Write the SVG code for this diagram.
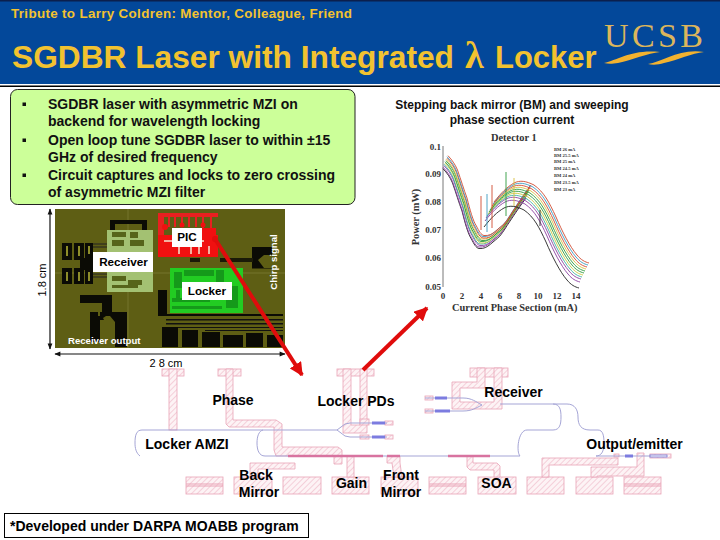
<svg xmlns="http://www.w3.org/2000/svg" xmlns:xlink="http://www.w3.org/1999/xlink" width="720" height="540" viewBox="0 0 720 540">
<style>
text{font-family:"Liberation Sans",Arial,sans-serif;fill:#000}
.t{font-size:14px;font-weight:bold}
.b{font-size:14px;font-weight:bold;fill:#111}
.m{font-size:12px;font-weight:bold;fill:#111}
.ch{font-size:11.7px;font-weight:bold}
.wl{font-size:9.6px;font-weight:bold;fill:#fff}
.s{font-family:"Liberation Serif",serif;font-weight:bold;fill:#333}
.ax{font-size:9px}
.lg{font-size:4.6px}
.h{fill:url(#hatch);stroke:#e9a3b6;stroke-width:.8}
.w{fill:none;stroke:#a5a5d6;stroke-width:1}
.wb{fill:none;stroke:#7c7ce0;stroke-width:3}
.wp{fill:none;stroke:#d873a0;stroke-width:2.4}
.c{fill:none;stroke-width:.9}
.k{fill:#0b0b05}
.red{stroke:#e00c0c;stroke-width:4;fill:none}
</style>
<defs>
<pattern id="hatch" width="4" height="4" patternUnits="userSpaceOnUse" patternTransform="rotate(-45)">
<rect width="4" height="4" fill="#fdf3f5"/><line x1="0" y1="0" x2="4" y2="0" stroke="#eeb2c2" stroke-width="1.100"/>
</pattern>
<marker id="ah" viewBox="0 0 10 10" refX="9" refY="5" markerWidth="3.400" markerHeight="3.400" orient="auto"><path d="M0 0L10 5L0 10Z" fill="#e00c0c"/></marker>
<marker id="dk" viewBox="0 0 10 10" refX="9" refY="5" markerWidth="7" markerHeight="6" orient="auto-start-reverse" markerUnits="userSpaceOnUse"><path d="M0 1L10 5L0 9Z" fill="#111"/></marker>
<path id="cl" d="M443 160.700C447 165 450 169 452.500 175C456 185 459 195 462 203C465 215 468 226 471.400 231C474 236 476 240 479 240.500C484 241 487 239 490.400 236.300C494 233 497 231 499.900 228C504 223 506 219 509.400 214L518.800 200L526 190"/>
<path id="cu" d="M490 203C497 194 503 188 510 184C516 181 522 182 530 186C540 193 545 203 552 218C558 232 566 248 573 256C577 261 581 263 585 264"/>
</defs>
<rect width="720" height="540" fill="#fff"/>
<g id="header">
<rect width="720" height="84" fill="#03489a"/>
<rect width="720" height="1.500" fill="#0b1f4d"/>
<rect y="85.500" width="720" height="1.500" fill="#000"/>
<text x="11" y="18" font-size="13.400" font-weight="bold" textLength="341" lengthAdjust="spacing" style="fill:#f2c230">Tribute to Larry Coldren: Mentor, Colleague, Friend</text>
<text x="12" y="68" font-size="31.700" font-weight="bold" style="fill:#f2c230">SGDBR Laser with Integrated</text>
<text x="465" y="68" font-size="38" font-weight="bold" style="fill:#f2c230;font-family:'Liberation Serif',serif">λ</text>
<text x="495" y="68" font-size="31" font-weight="bold" style="fill:#f2c230">Locker</text>
</g>
<g id="ucsb-logo">
<text x="604" y="47" font-size="34" textLength="99" lengthAdjust="spacing" style="font-family:'Liberation Serif',serif;fill:#dcb65c">UCSB</text>
<path d="M604 63C618 60 632 49 660 52C648 53 632 60 618 63C612 64 608 64 604 63Z" fill="#f2b230"/>
<path d="M648 64C662 62 680 48 704 52C692 53 678 60 664 63C658 65 652 65 648 64Z" fill="#f2b230"/>
</g>
<g id="bullet-box">
<rect x="10.500" y="89.500" width="344.500" height="115" rx="7" fill="#ccff99" stroke="#222" stroke-width="1"/>
<g><rect x="22.500" y="102.500" width="3.500" height="3.500" fill="#111"/><rect x="22.500" y="138.500" width="3.500" height="3.500" fill="#111"/><rect x="22.500" y="173.500" width="3.500" height="3.500" fill="#111"/></g>
<text class="b" x="48" y="109">SGDBR laser with asymmetric MZI on</text>
<text class="b" x="48" y="126">backend for wavelength locking</text>
<text class="b" x="48" y="145">Open loop tune SGDBR laser to within ±15</text>
<text class="b" x="48" y="162">GHz of desired frequency</text>
<text class="b" x="48" y="180">Circuit captures and locks to zero crossing</text>
<text class="b" x="48" y="197">of asymmetric MZI filter</text>
</g>
<g id="chart-title">
<text class="m" x="512" y="109" text-anchor="middle">Stepping back mirror (BM) and sweeping</text>
<text class="m" x="512" y="124" text-anchor="middle">phase section current</text>
</g>
<g id="chip">
<rect x="55" y="209" width="230" height="139" fill="#5e5e14"/>
<path d="M55 273H285M128 209V348" stroke="#85853c" stroke-width=".6"/>
<rect x="107" y="230" width="46" height="62" fill="#a3c172"/>
<path d="M112 232h14v5h-14Z M112 246h12v-6h-12Z M130 240h14v6h-14Z M130 232h8v6h-8Z M112 276h14v5h-14Z M128 280h14v5h-14Z M112 285h26v3h-26Z" fill="#56641a"/>
<path d="M110 220H147V230H142V224H115V230H110Z" class="k"/>
<rect x="158" y="213" width="60" height="4" fill="#e82020"/>
<path d="M158 213h6v44h-6Z M168 217h2v10h-2Z M174 217h2v10h-2Z M181 217h2v10h-2Z M188 217h2v10h-2Z M195 217h2v10h-2Z M202 217h2v12h-2Z M210 217h2v12h-2Z" fill="#e82020"/>
<path d="M158 235H218V257H158Z M202 228H216V236H202Z" fill="#f01010"/>
<circle cx="165" cy="227" r="3" fill="#f01010"/><circle cx="182" cy="225" r="2.500" fill="#f01010"/><circle cx="203" cy="225" r="2.500" fill="#f01010"/>
<path d="M164 240h40v2h-40Z M178 247h2v7h-2Z M190 247h2v7h-2Z M198 247h2v7h-2Z M208 246h2v8h-2Z" fill="#f3b0a0"/>
<rect x="170" y="268" width="73" height="45" fill="#22cc22"/>
<path d="M174 272h8v16h-8Z M184 270h30v6h-30Z M172 298h38v4h-38Z M172 306h50v3h-50Z M226 286h12v22h-12Z M216 270h8v12h-8Z M176 290h4v12h-4Z" fill="#118a18" opacity=".75"/>
<path d="M62 243H72V260H62ZM74 243H84V260H74ZM85 243H93V258H85ZM62 268H72V284H62ZM74 268H84V284H74ZM85 268H93V284H85Z" class="k"/>
<path d="M66 246h2v10h-2ZM78 246h2v10h-2ZM88 246h2v8h-2ZM66 272h2v9h-2ZM78 272h2v9h-2ZM88 272h2v9h-2Z" fill="#8d8d2a"/>
<path d="M80 258H95V270H80Z" class="k"/>
<path d="M93 244H107M93 247H107M93 274H107M93 277H107" stroke="#222" stroke-width="1"/>
<path d="M80 295H112V312H102V303H80Z" class="k"/>
<path d="M90 312H98V316H102L104 320H100V342H90Z" class="k"/>
<path d="M100 312H127V347H115V322L110 316H106L100 320Z" class="k"/>
<path d="M252 247H272V255H264L258 260L264 268H272V268.500H252Z" class="k"/>
<path d="M220 258H253V262H220ZM190 258H200V262H190Z" fill="#1a1a08"/>
<path d="M158 290H167V314H283V316H158Z" class="k"/>
<path d="M166 319H283V320.500H166ZM166 323H283V324.500H166ZM170 327H283V328H170Z M205 330H283V331H205Z" fill="#111"/>
<path d="M162 327H178V347H162Z M182 330H198V347H182Z M202 332H220V347H202Z M223 335H243V347H223Z M246 333H263V347H246Z M267 335H283V347H267Z" class="k"/>
<rect x="93" y="252" width="60" height="20" fill="#fff"/>
<rect x="172" y="228" width="30" height="19" fill="#fff"/>
<rect x="182" y="282" width="50" height="18" fill="#fff"/>
<text class="ch" x="123.500" y="266" text-anchor="middle">Receiver</text>
<text class="ch" x="187" y="241" text-anchor="middle">PIC</text>
<text class="ch" x="207" y="295" text-anchor="middle">Locker</text>
<text class="wl" x="68" y="344">Receiver output</text>
<text class="wl" x="277" y="262" text-anchor="middle" transform="rotate(-90 277 262)">Chirp signal</text>
<line x1="50" y1="209" x2="50" y2="349" stroke="#111" stroke-width="1.200" marker-start="url(#dk)" marker-end="url(#dk)"/>
<line x1="55" y1="354" x2="285" y2="354" stroke="#111" stroke-width="1.200" marker-start="url(#dk)" marker-end="url(#dk)"/>
<text x="46" y="280" font-size="11" text-anchor="middle" transform="rotate(-90 46 280)">1.8 cm</text>
<text x="166" y="367" font-size="11" text-anchor="middle">2 8 cm</text>
</g>
<g id="chart">
<path d="M443 146V287" fill="none" stroke="#555" stroke-width=".8"/>
<g class="c">
<use xlink:href="#cl" stroke="#222" transform="translate(0 8)"/><use xlink:href="#cl" stroke="#8b3fa0" transform="translate(0 6.500)"/>
<use xlink:href="#cl" stroke="#8b3fa0" transform="translate(1 5)"/><use xlink:href="#cl" stroke="#3cb0a0" transform="translate(1 3.500)"/>
<use xlink:href="#cl" stroke="#c8c840" transform="translate(2 2.500)"/><use xlink:href="#cl" stroke="#2e9a3c" transform="translate(2 1)"/>
<use xlink:href="#cl" stroke="#2e9a3c" transform="translate(3 0)"/><use xlink:href="#cl" stroke="#d8c040" transform="translate(3 -1.500)"/>
<use xlink:href="#cl" stroke="#d04a30" transform="translate(4 -2.500)"/><use xlink:href="#cl" stroke="#3c9ac0" transform="translate(4 -4)"/>
<use xlink:href="#cl" stroke="#d04a30" transform="translate(5 -5)"/>
<use xlink:href="#cu" stroke="#222" transform="translate(-6 24)"/><use xlink:href="#cu" stroke="#8b3fa0" transform="translate(-5 18)"/>
<use xlink:href="#cu" stroke="#8b3fa0" transform="translate(-4 15)"/><use xlink:href="#cu" stroke="#3cb0a0" transform="translate(-3 13)"/>
<use xlink:href="#cu" stroke="#c8c840" transform="translate(-2 11)"/><use xlink:href="#cu" stroke="#2e9a3c" transform="translate(-1 9)"/>
<use xlink:href="#cu" stroke="#2e9a3c" transform="translate(0 7)"/><use xlink:href="#cu" stroke="#d8c040" transform="translate(1 5)"/>
<use xlink:href="#cu" stroke="#d04a30" transform="translate(2 3)"/><use xlink:href="#cu" stroke="#3c9ac0" transform="translate(3 1)"/>
<use xlink:href="#cu" stroke="#d04a30" transform="translate(4 -1)"/>
<path d="M481 196V230" stroke="#d04a30"/><path d="M492 185V228" stroke="#d04a30"/><path d="M487 194V232" stroke="#3c9ac0"/><path d="M514 178V206" stroke="#d8c040"/><path d="M506 172V216" stroke="#2e9a3c"/><path d="M540 210V226" stroke="#222"/>
</g>
<g>
<text class="s ax" x="441" y="150" text-anchor="end">0.1</text>
<text class="s ax" x="441" y="177" text-anchor="end">0.09</text>
<text class="s ax" x="441" y="205" text-anchor="end">0.08</text>
<text class="s ax" x="441" y="233" text-anchor="end">0.07</text>
<text class="s ax" x="441" y="261" text-anchor="end">0.06</text>
<text class="s ax" x="441" y="290" text-anchor="end">0.05</text>
<text class="s ax" x="443" y="299" text-anchor="middle">0</text>
<text class="s ax" x="462" y="299" text-anchor="middle">2</text>
<text class="s ax" x="481" y="299" text-anchor="middle">4</text>
<text class="s ax" x="500" y="299" text-anchor="middle">6</text>
<text class="s ax" x="519" y="299" text-anchor="middle">8</text>
<text class="s ax" x="538" y="299" text-anchor="middle">10</text>
<text class="s ax" x="557" y="299" text-anchor="middle">12</text>
<text class="s ax" x="576" y="299" text-anchor="middle">14</text>
</g>
<text class="s" x="491" y="141" font-size="10.400">Detector 1</text>
<text class="s" x="452" y="311" font-size="10.400">Current Phase Section (mA)</text>
<text class="s" x="419" y="217" font-size="10.400" text-anchor="middle" transform="rotate(-90 419 217)">Power (mW)</text>
<g>
<text class="s lg" x="554" y="151">BM 26 mA</text>
<text class="s lg" x="554" y="157">BM 25.5 mA</text>
<text class="s lg" x="554" y="163">BM 25 mA</text>
<text class="s lg" x="554" y="170">BM 24.5 mA</text>
<text class="s lg" x="554" y="177">BM 24 mA</text>
<text class="s lg" x="554" y="184">BM 23.5 mA</text>
<text class="s lg" x="554" y="191">BM 23 mA</text>
</g>
</g>
<g id="layout-pads">
<rect class="h" x="162" y="369" width="22" height="7"/><rect class="h" x="218" y="369" width="23" height="7"/>
<rect class="h" x="337" y="369" width="37" height="7"/><rect class="h" x="470" y="368" width="38" height="9"/>
<rect class="h" x="186" y="477" width="37" height="17"/><rect class="h" x="234" y="477" width="38" height="17"/>
<rect class="h" x="283" y="477" width="38" height="17"/><rect class="h" x="332" y="477" width="37" height="17"/>
<rect class="h" x="381" y="477" width="37" height="17"/><rect class="h" x="429" y="477" width="37" height="17"/>
<rect class="h" x="478" y="477" width="38" height="17"/><rect class="h" x="527" y="477" width="37" height="17"/>
<rect class="h" x="576" y="477" width="37" height="17"/><rect class="h" x="624" y="477" width="37" height="17"/>
<path d="M186 484H223M186 486H223M429 484H466M429 486H466M624 484H661M624 486H661" stroke="#e9a3b6" fill="none"/>
<rect class="h" x="169" y="369" width="8" height="61"/>
<path class="h" d="M226 369H233V420H276L282 424V447H338L342 450V464H334V456H276L274 450V427H229L226 424Z"/>
<path class="h" d="M343 369H351V425H360V369H367V433H343Z"/>
<rect class="h" x="360" y="419" width="9" height="6"/><rect class="h" x="360" y="435" width="9" height="4"/>
<path class="h" d="M250 463H295V469H258V477H250Z"/>
<rect class="h" x="347" y="456" width="7" height="21"/>
<path class="h" d="M387 456H400V463L402 477H394L392 463H387Z"/>
<path class="h" d="M467 456H473V463H497L500 466V477H494V470H470L467 467Z"/>
<path class="h" d="M452 382H477V368H485V388H460V402H494V368H502V409H452Z"/>
<path class="h" d="M542 458H618V465H549V477H542Z"/>
<path class="h" d="M591 467H637V453H644V476H597V477H591Z"/>
<rect class="h" x="614" y="454" width="5" height="3"/><rect class="h" x="650" y="454" width="21" height="4"/>
<rect class="h" x="385" y="421" width="8" height="4"/><rect class="h" x="385" y="435" width="8" height="4"/>
<rect class="h" x="425" y="396" width="8" height="4"/><rect class="h" x="425" y="409" width="8" height="4"/>
</g>
<g id="connectors">
<path class="w" d="M140 456C136 453 135 448 135 443C135 436 136 430 142 430H337L345 424L350 423H387M337 430L345 436L350 437H387"/>
<path class="w" d="M263 430C259 431 257 436 257 443C257 450 259 456 265 456H520C516 452 518 430 527 430H553C560 430 561 424 561 417C561 410 560 404 553 404H500"/>
<path class="w" d="M425 398H463C472 398 476 402 482 405C476 408 472 411 463 411H425"/>
<path class="w" d="M553 404H567C575 404 578 410 578 417C578 425 581 430 590 430H598C603 430 604 436 604 443C604 452 601 456 596 456H614M614 456H650"/>
<path class="wb" d="M372 423H385M372 437H385M435 398H447M435 411H450M625 456H633"/>
<rect x="650" y="455" width="17" height="2" fill="#fff" stroke="#8888d8"/>
<path class="wp" d="M288 456H383M448 456H490M387 456H400"/>
<line class="red" x1="215" y1="239" x2="302" y2="375" marker-end="url(#ah)"/>
<circle cx="215" cy="239" r="3" fill="#e00c0c"/>
<line class="red" x1="363" y1="370" x2="427" y2="308" marker-end="url(#ah)"/>
</g>
<g id="labels">
<text class="t" x="233" y="405" text-anchor="middle">Phase</text>
<text class="t" x="356" y="406" text-anchor="middle">Locker PDs</text>
<text class="t" x="513.500" y="397" text-anchor="middle">Receiver</text>
<text class="t" x="187" y="449" text-anchor="middle">Locker AMZI</text>
<text class="t" x="634.500" y="449" text-anchor="middle">Output/emitter</text>
<text class="t" x="256" y="480" text-anchor="middle">Back</text>
<text class="t" x="259" y="497" text-anchor="middle">Mirror</text>
<text class="t" x="351.500" y="488" text-anchor="middle">Gain</text>
<text class="t" x="401" y="480" text-anchor="middle">Front</text>
<text class="t" x="401" y="497" text-anchor="middle">Mirror</text>
<text class="t" x="496.500" y="488" text-anchor="middle">SOA</text>
</g>
<g id="note">
<rect x="4.500" y="513.500" width="304" height="24" fill="#fff" stroke="#000"/>
<text class="t" x="10" y="531">*Developed under DARPA MOABB program</text>
</g>
</svg>
